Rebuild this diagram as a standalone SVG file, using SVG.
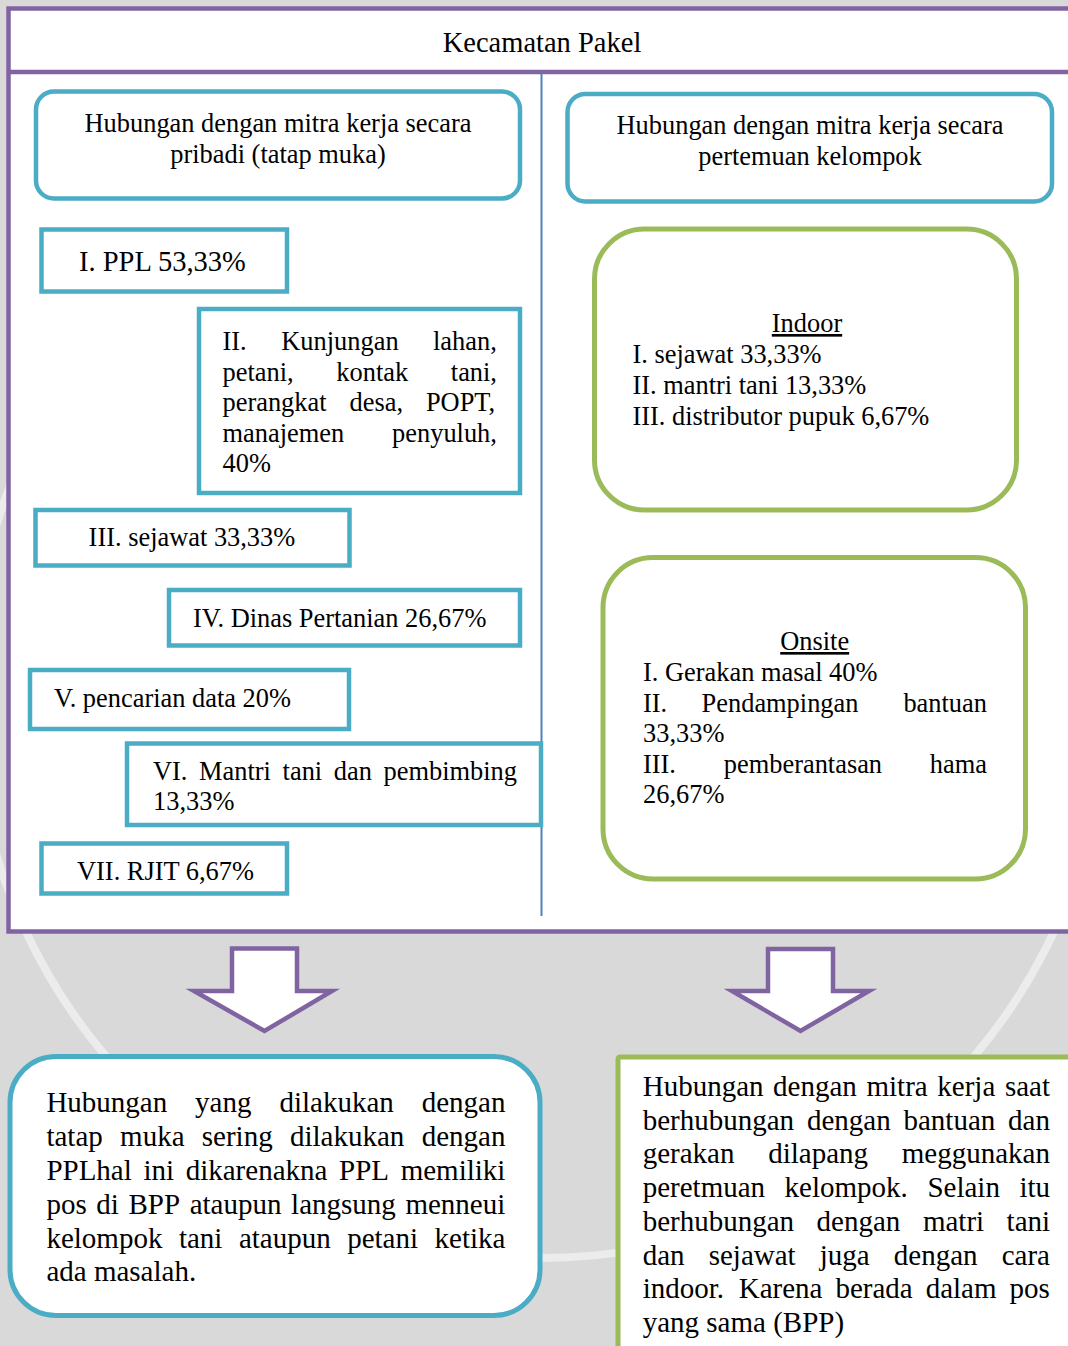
<svg xmlns="http://www.w3.org/2000/svg" width="1068" height="1346" viewBox="0 0 1068 1346">
  <style>
    .t { font-family: "Liberation Serif", "Times New Roman", serif; fill: #000; }
    .s { font-size: 26.4px; }
    .l { font-size: 29px; }
    .cy { fill: #fff; stroke: #4bacc6; stroke-width: 4.5; }
    .gr { fill: #fff; stroke: #9bbb59; stroke-width: 5; }
    .arrow { fill: #fff; stroke: #8064a2; stroke-width: 4.5; stroke-linejoin: miter; }
    .u { text-decoration: underline; }
  </style>

  <!-- page background with faint ring -->
  <rect x="0" y="0" width="1068" height="1346" fill="#d9d9d9"/>
  <circle cx="540" cy="690" r="568" fill="none" stroke="#ffffff" stroke-opacity="0.5" stroke-width="8"/>

  <!-- outer frame -->
  <g id="frame">
    <rect x="8.5" y="8.5" width="1080" height="923" fill="#fff" stroke="#8064a2" stroke-width="4.5"/>
    <line x1="8" y1="72" x2="1068" y2="72" stroke="#8064a2" stroke-width="4.5"/>
    <line x1="541.5" y1="74" x2="541.5" y2="916" stroke="#4f81bd" stroke-width="2"/>
    <text class="t" x="542" y="52" font-size="28.5" text-anchor="middle">Kecamatan Pakel</text>
  </g>

  <!-- left column -->
  <g id="head-left">
    <rect class="cy" x="36" y="91.5" width="484" height="107" rx="18"/>
    <text class="t s" x="278" y="132" text-anchor="middle">Hubungan dengan mitra kerja secara</text>
    <text class="t s" x="278" y="163" text-anchor="middle">pribadi (tatap muka)</text>
  </g>

  <g id="item-1">
    <rect class="cy" x="41.5" y="229.5" width="245.5" height="62"/>
    <text class="t" x="79" y="271" font-size="28.5">I. PPL 53,33%</text>
  </g>

  <g id="item-2">
    <rect class="cy" x="199" y="309" width="321" height="184"/>
    <text class="t s" y="350"><tspan x="222.5">II.</tspan><tspan x="281.3">Kunjungan</tspan><tspan x="433">lahan,</tspan></text>
    <text class="t s" y="380.5"><tspan x="222.5">petani,</tspan><tspan x="336.3">kontak</tspan><tspan x="450.8">tani,</tspan></text>
    <text class="t s" y="411"><tspan x="222.5">perangkat</tspan><tspan x="349.5">desa,</tspan><tspan x="425.9">POPT,</tspan></text>
    <text class="t s" y="441.5"><tspan x="222.5">manajemen</tspan><tspan x="392.1">penyuluh,</tspan></text>
    <text class="t s" x="222.5" y="472">40%</text>
  </g>

  <g id="item-3">
    <rect class="cy" x="35.5" y="510" width="314" height="55.5"/>
    <text class="t s" x="88.6" y="546">III. sejawat 33,33%</text>
  </g>

  <g id="item-4">
    <rect class="cy" x="169" y="590" width="351" height="55.5"/>
    <text class="t s" x="193" y="627">IV. Dinas Pertanian 26,67%</text>
  </g>

  <g id="item-5">
    <rect class="cy" x="30" y="670" width="319" height="59"/>
    <text class="t s" x="54" y="707">V. pencarian data 20%</text>
  </g>

  <g id="item-6">
    <rect class="cy" x="127" y="743.5" width="414" height="81.5"/>
    <text class="t s" y="780"><tspan x="153">VI.</tspan><tspan x="199.1">Mantri</tspan><tspan x="282.6">tani</tspan><tspan x="333.8">dan</tspan><tspan x="383.5">pembimbing</tspan></text>
    <text class="t s" x="153" y="810">13,33%</text>
  </g>

  <g id="item-7">
    <rect class="cy" x="41.5" y="843.5" width="245.5" height="50"/>
    <text class="t s" x="77" y="880">VII. RJIT 6,67%</text>
  </g>

  <!-- right column -->
  <g id="head-right">
    <rect class="cy" x="567.5" y="94" width="484.5" height="107.5" rx="18"/>
    <text class="t s" x="810" y="134" text-anchor="middle">Hubungan dengan mitra kerja secara</text>
    <text class="t s" x="810" y="165" text-anchor="middle">pertemuan kelompok</text>
  </g>

  <g id="indoor">
    <rect class="gr" x="594.5" y="229" width="422" height="281" rx="50"/>
    <text class="t s u" x="807" y="332" text-anchor="middle">Indoor</text>
    <text class="t s" x="632.5" y="363">I. sejawat 33,33%</text>
    <text class="t s" x="632.5" y="394">II. mantri tani 13,33%</text>
    <text class="t s" x="632.5" y="425">III. distributor pupuk 6,67%</text>
  </g>

  <g id="onsite">
    <rect class="gr" x="603" y="557.5" width="422.5" height="321.5" rx="50"/>
    <text class="t s u" x="814.7" y="650" text-anchor="middle">Onsite</text>
    <text class="t s" x="643" y="681">I. Gerakan masal 40%</text>
    <text class="t s" y="711.5"><tspan x="643">II.</tspan><tspan x="701.6">Pendampingan</tspan><tspan x="903.4">bantuan</tspan></text>
    <text class="t s" x="643" y="742">33,33%</text>
    <text class="t s" y="772.5"><tspan x="643">III.</tspan><tspan x="723.8">pemberantasan</tspan><tspan x="929.8">hama</tspan></text>
    <text class="t s" x="643" y="803">26,67%</text>
  </g>

  <!-- connectors: block arrows -->
  <g id="connectors">
    <polygon class="arrow" points="232,948.5 297,948.5 297,991 332,991 264.5,1031 194,991 232,991"/>
    <polygon class="arrow" points="768,949 833,949 833,991 869,991 800.5,1031 732,991 768,991"/>
  </g>

  <!-- conclusions -->
  <g id="summary-left">
    <rect x="10" y="1056.5" width="530" height="259" rx="46" fill="#fff" stroke="#4bacc6" stroke-width="5"/>
    <text class="t l" y="1112"><tspan x="46.4">Hubungan</tspan><tspan x="195.1">yang</tspan><tspan x="279.4">dilakukan</tspan><tspan x="421.7">dengan</tspan></text>
    <text class="t l" y="1146"><tspan x="46.4">tatap</tspan><tspan x="120.1">muka</tspan><tspan x="201.8">sering</tspan><tspan x="290">dilakukan</tspan><tspan x="421.7">dengan</tspan></text>
    <text class="t l" y="1180"><tspan x="46.4">PPLhal</tspan><tspan x="143.5">ini</tspan><tspan x="185.7">dikarenakna</tspan><tspan x="339.1">PPL</tspan><tspan x="400.7">memiliki</tspan></text>
    <text class="t l" y="1213.5"><tspan x="46.4">pos</tspan><tspan x="96.3">di</tspan><tspan x="128.5">BPP</tspan><tspan x="189.7">ataupun</tspan><tspan x="291.1">langsung</tspan><tspan x="405.4">menneui</tspan></text>
    <text class="t l" y="1247.5"><tspan x="46.4">kelompok</tspan><tspan x="178.9">tani</tspan><tspan x="238.9">ataupun</tspan><tspan x="347.2">petani</tspan><tspan x="434.6">ketika</tspan></text>
    <text class="t l" x="46.4" y="1281">ada masalah.</text>
  </g>

  <g id="summary-right">
    <rect x="618" y="1057" width="480" height="320" rx="2" fill="#fff" stroke="#9bbb59" stroke-width="5"/>
    <text class="t l" y="1096"><tspan x="642.7">Hubungan</tspan><tspan x="773.1">dengan</tspan><tspan x="866.5">mitra</tspan><tspan x="937.3">kerja</tspan><tspan x="1004.9">saat</tspan></text>
    <text class="t l" y="1129.7"><tspan x="642.7">berhubungan</tspan><tspan x="806.9">dengan</tspan><tspan x="903.5">bantuan</tspan><tspan x="1008.1">dan</tspan></text>
    <text class="t l" y="1163.4"><tspan x="642.7">gerakan</tspan><tspan x="768.2">dilapang</tspan><tspan x="901.8">meggunakan</tspan></text>
    <text class="t l" y="1197"><tspan x="642.7">peretmuan</tspan><tspan x="784.6">kelompok.</tspan><tspan x="927.4">Selain</tspan><tspan x="1019.4">itu</tspan></text>
    <text class="t l" y="1230.8"><tspan x="642.7">berhubungan</tspan><tspan x="816.6">dengan</tspan><tspan x="922.9">matri</tspan><tspan x="1006.6">tani</tspan></text>
    <text class="t l" y="1264.5"><tspan x="642.7">dan</tspan><tspan x="708.7">sejawat</tspan><tspan x="819.8">juga</tspan><tspan x="893.8">dengan</tspan><tspan x="1001.7">cara</tspan></text>
    <text class="t l" y="1298"><tspan x="642.7">indoor.</tspan><tspan x="738.7">Karena</tspan><tspan x="835.4">berada</tspan><tspan x="925.7">dalam</tspan><tspan x="1009.6">pos</tspan></text>
    <text class="t l" x="642.7" y="1332">yang sama (BPP)</text>
  </g>
</svg>
